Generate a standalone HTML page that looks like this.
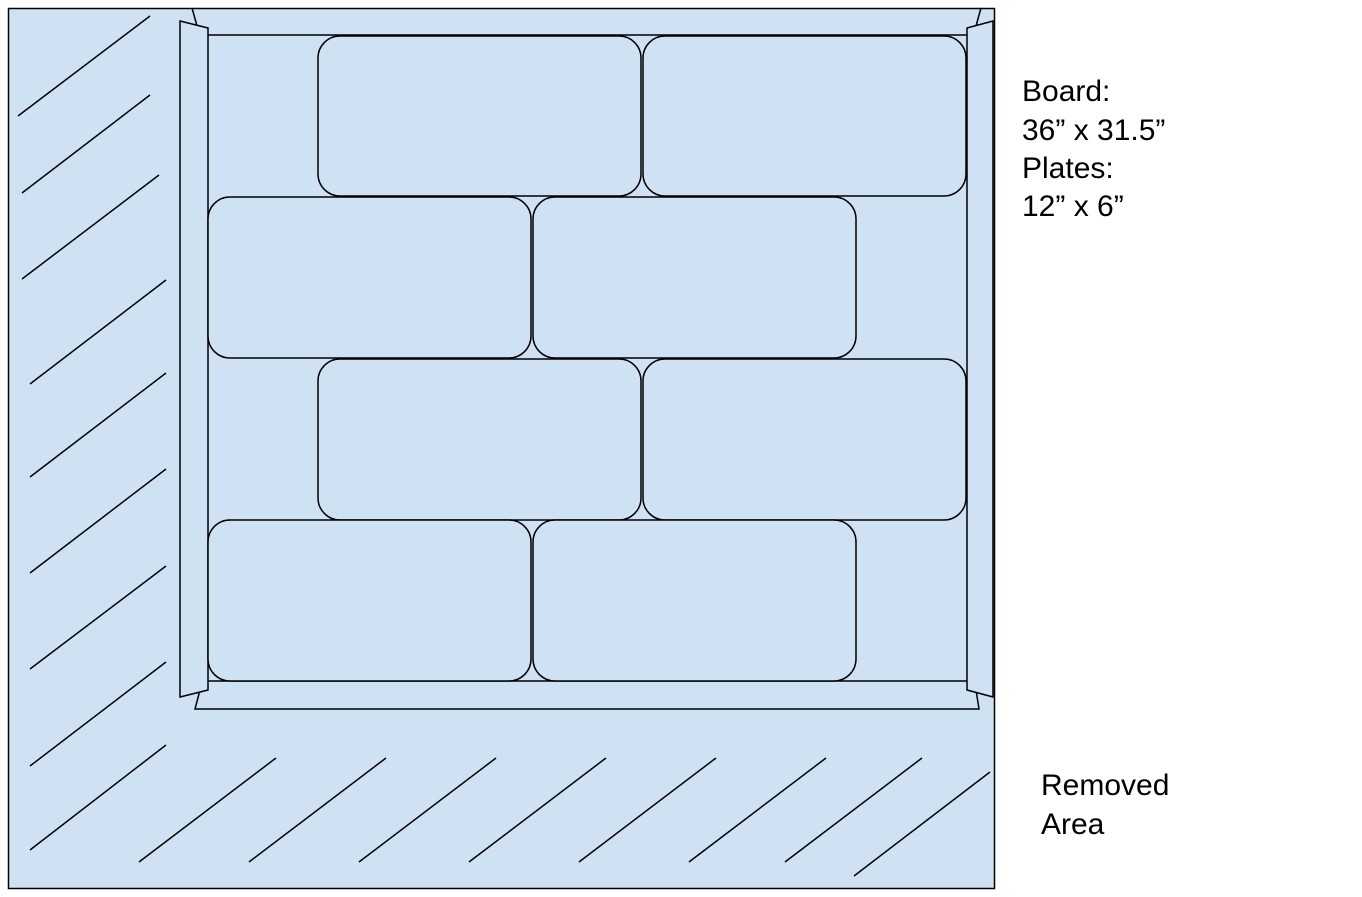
<!DOCTYPE html>
<html><head><style>
body{margin:0;background:#fff;width:1362px;height:892px;overflow:hidden}
svg text{font-family:"Liberation Sans",sans-serif;font-size:30px;fill:#000}
</style></head><body>
<svg width="1362" height="892" xmlns="http://www.w3.org/2000/svg">
<rect x="8.5" y="8.5" width="986" height="880" fill="#cfe2f3" stroke="#000" stroke-width="1.5"/>
<g stroke="#000" stroke-width="1.5" fill="#cfe2f3">
<line x1="192" y1="8" x2="197" y2="26"/>
<line x1="981" y1="8" x2="976" y2="26"/>
<line x1="208" y1="35" x2="967" y2="35"/>
<line x1="208" y1="681" x2="967" y2="681"/>
<polyline points="200,690 195,709 979,709 976,690" fill="none"/>
<polygon points="180,21 208,28 208,690 180,697"/>
<polygon points="967,28 993,21 993,697 967,690"/>
<rect x="318" y="36" width="323" height="160" rx="22"/>
<rect x="643" y="36" width="323" height="160" rx="22"/>
<rect x="208" y="197" width="323" height="161" rx="22"/>
<rect x="533" y="197" width="323" height="161" rx="22"/>
<rect x="318" y="359" width="323" height="161" rx="22"/>
<rect x="643" y="359" width="323" height="161" rx="22"/>
<rect x="208" y="520" width="323" height="161" rx="22"/>
<rect x="533" y="520" width="323" height="161" rx="22"/>
<line x1="18" y1="116" x2="150" y2="16"/>
<line x1="22" y1="193" x2="150" y2="95"/>
<line x1="22" y1="279" x2="159" y2="175"/>
<line x1="30" y1="384" x2="166" y2="280"/>
<line x1="30" y1="477" x2="166" y2="373"/>
<line x1="30" y1="573" x2="166" y2="469"/>
<line x1="30" y1="669" x2="166" y2="566"/>
<line x1="30" y1="766" x2="166" y2="662"/>
<line x1="30" y1="850" x2="166" y2="745"/>
<line x1="139" y1="862" x2="276" y2="758"/>
<line x1="249" y1="862" x2="386" y2="758"/>
<line x1="359" y1="862" x2="496" y2="758"/>
<line x1="469" y1="862" x2="606" y2="758"/>
<line x1="579" y1="862" x2="716" y2="758"/>
<line x1="689" y1="862" x2="826" y2="758"/>
<line x1="785" y1="862" x2="922" y2="758"/>
<line x1="854" y1="876" x2="990" y2="772"/>
</g>
<text x="1022" y="101">Board:</text>
<text x="1022" y="140">36” x 31.5”</text>
<text x="1022" y="178">Plates:</text>
<text x="1022" y="216">12” x 6”</text>
<text x="1041" y="795">Removed</text>
<text x="1041" y="834">Area</text>
</svg>
</body></html>
